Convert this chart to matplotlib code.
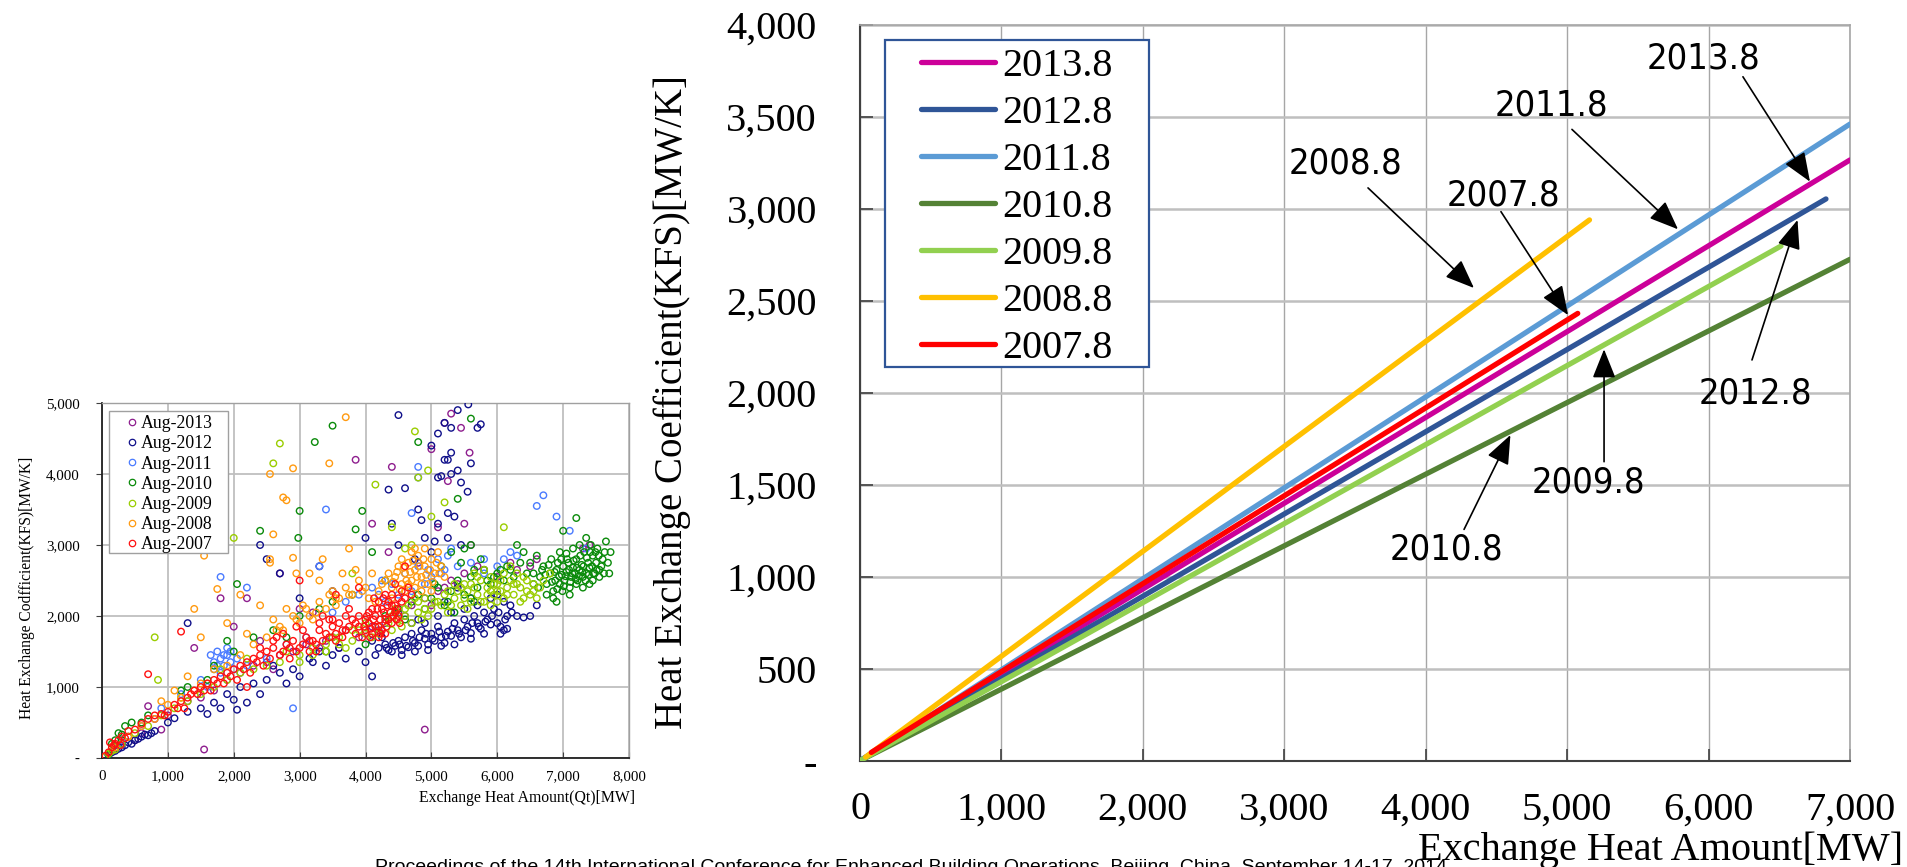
import matplotlib
matplotlib.use('Agg')
import matplotlib.pyplot as plt
from matplotlib import font_manager as fm
from matplotlib.patches import Rectangle
from matplotlib.lines import Line2D
from matplotlib.font_manager import FontProperties

# ---------------- DATA ----------------
# Right chart: regression lines (Qt [MW] -> KFS [MW/K]), start & end points
line_labels = ['2013.8', '2012.8', '2011.8', '2010.8', '2009.8', '2008.8', '2007.8']
line_qt = [[0, 7000], [0, 6830], [0, 7000], [0, 7000], [0, 6512], [40, 5158], [80, 5075]]
line_kfs = [[0, 3265], [0, 3053], [0, 3460], [0, 2725], [0, 2797], [20, 2939], [45, 2431]]

# Left chart: measured scatter points (Qt, KFS)
aug2013 = [(100,50),(300,200),(500,250),(700,730),(800,550),(1000,600),(1300,800),(1500,850),(1700,950),
           (1900,1100),(2100,1200),(2300,1300),(2500,1350),(2700,1450),(2900,1500),(3100,1600),(3300,1550),
           (3500,1700),(3700,1800),(3900,1700),(4100,1850),(4300,1900),(4500,2050),(4700,2150),(4900,2250),
           (5100,2350),(5300,2500),(5500,2600),(5700,2700),(6000,2550),(6500,2700),(7400,3000),(5300,4850),
           (5200,4720),(5450,4650),(5580,4300),(5000,4350),(4400,4100),(3850,4200),(4900,400),(1550,120),
           (1800,2250),(2200,2250),(2700,2600),(3000,2100),(4100,3300),(5500,3300),(1400,1550),(2400,1650),
           (5250,3900),(4350,2900),(5100,3250),(5600,3000),(6300,2650),(4800,2750),(3200,2050),(2000,1850),(900,400),
           (200,120),(400,300),(600,350),(2600,1250),(3400,1650),(3600,1550),(4200,1800),(4600,2000),(5000,2150),
           (5200,2400),(5400,2450),(5800,2650),(6200,2750),(6600,2800),(7300,2950)]
aug2012 = [(4300,1600),(4350,1520),(4400,1500),(4450,1580),(4500,1650),(4550,1520),(4600,1700),(4650,1560),
           (4700,1750),(4750,1620),(4800,1580),(4850,1800),(4900,1680),(4950,1600),(5000,1750),(5050,1650),
           (5100,1850),(5150,1700),(5200,1620),(5250,1780),(5300,1720),(5350,1900),(5400,1800),(5450,1700),
           (5500,1950),(5550,1850),(5600,1760),(5650,2000),(5700,1900),(5750,1820),(5800,2050),(5850,1950),
           (5900,1880),(5950,2100),(6000,1900),(6050,1850),(6100,1800),(6150,2000),(6200,2150),(5100,2000),
           (4900,1900),(4700,1900),(5300,2050),(5500,2100),(5700,2150),(6000,2300),(6300,2000),(6400,1980),
           (4200,1550),(4250,1700),(4800,1950),(5200,2200),(5600,2250),(5400,2400),(5900,2250),(6100,2200),
           (6150,1820),(100,40),(200,100),(300,150),(400,220),(500,250),(600,300),(700,320),(800,380),
           (1000,500),(1100,560),(1300,650),(1500,700),(1700,780),(1900,900),(2000,820),(2100,1000),(2300,1050),
           (2400,900),(2500,1100),(2700,1200),(2900,1250),(3000,1150),(3200,1350),(3400,1300),(3500,1450),
           (3700,1400),(3900,1500),(4000,1350),(3600,1550),(3300,1500),(2800,1050),(1800,700),(2200,780),
           (3150,1400),(4100,1650),(4150,1450),(1600,620),(2600,1300),(2050,680),(4500,4830),(4350,3780),
           (5200,4720),(5300,4650),(5560,4980),(5400,4900),(5100,4570),(5000,4400),(5250,4200),(5300,4000),
           (5450,3880),(5150,3970),(5550,3750),(5350,3400),(5600,4150),(5700,4650),(5750,4700),(4800,3500),
           (4850,3350),(4400,3300),(4000,3100),(4600,3800),(5100,3300),(5250,3100),(5450,3000),(5250,3450),
           (5200,4200),(5100,3950),(3500,2350),(2500,2800),(2700,2600),(3000,2250),(3300,2700),(1300,1900),
           (4100,1150),(2400,3000),(5400,4050),(5300,4300),(4500,3000),(4750,2800),(5000,2900),(4900,3100),
           (5050,3050),(6500,2000),(6600,2150),
           (4320,1550),(4420,1620),(4520,1600),(4620,1580),(4720,1650),(4820,1700),(4920,1750),(5020,1680),
           (5120,1780),(5220,1720),(5320,1820),(5420,1750),(5520,1800),(5620,1900),(5720,1850),(5820,1920),
           (5920,2000),(6020,2050),(6120,1950),(6220,2050),(5350,1600),(5150,1580),(4950,1520),(4750,1500),
           (4550,1450),(5600,1680),(5800,1750),(6050,1750),(150,80),(250,130),(350,180),(450,200),(550,270),
           (650,330),(750,350)]
aug2011 = [(1650,1450),(1700,1350),(1750,1500),(1800,1400),(1850,1300),(1900,1450),(1950,1350),(2000,1250),
           (1800,1200),(1700,1250),(1900,1550),(2050,1400),(1500,1100),(1200,900),(900,700),(600,450),(300,250),
           (2200,1300),(2500,1400),(2800,1600),(3100,1700),(3500,2050),(3700,2200),(3900,2300),(4100,2400),
           (4300,2200),(4400,2450),(4600,2600),(4700,2350),(4800,2700),(5000,2550),(5100,2800),(5200,2650),
           (5300,2950),(4900,2450),(4500,2300),(5400,2700),(5600,2750),(5800,2800),(6200,2900),(6100,2800),
           (6300,2850),(6700,3700),(6600,3550),(6900,3400),(7100,3200),(4700,3450),(4800,4100),(3400,3500),
           (1800,2550),(2200,2400),(2900,700),(3300,2700),(5800,2600),(6000,2700),(4800,3950),(7350,2950),(1600,1000),
           (1750,1300),(1850,1450),(1950,1500),(4200,2300),(4250,2500),(4950,2650),(5150,2600),(5250,2850)]
aug2010 = [(6650,2550),(6700,2700),(6750,2450),(6800,2600),(6820,2800),(6850,2350),(6880,2500),(6900,2650),
           (6920,2750),(6950,2450),(6980,2580),(7000,2700),(7020,2500),(7050,2620),(7080,2750),(7100,2400),
           (7120,2550),(7150,2680),(7180,2600),(7200,2800),(7220,2500),(7250,2650),(7280,2720),(7300,2550),
           (7320,2900),(7350,2600),(7380,2750),(7400,2680),(7420,3000),(7450,2850),(7480,2600),(7500,2750),
           (7520,2950),(7550,2650),(7600,2800),(7650,3050),(7700,2600),(7620,2600),(6950,2900),(7050,2880),
           (7150,2950),(7250,3000),(7350,3100),(7450,2500),(6600,2850),(6550,2600),(6500,2750),(6400,2900),
           (6300,3000),(6200,2650),(6100,2500),(6850,2250),(6750,2300),(6900,2200),(7100,2300),(7300,2400),
           (7200,2450),(6990,2350),(7400,2450),(7550,2550),(4300,2000),(4500,2100),(4600,1950),(4700,2200),
           (4800,2300),(4900,2100),(5000,2250),(5100,2400),(5200,2150),(5300,2350),(5400,2500),(5500,2300),
           (5600,2550),(5700,2400),(5800,2650),(5900,2450),(6000,2600),(5150,2700),(5450,2750),(5750,2800),
           (5250,2200),(5350,2050),(4450,2050),(5050,2450),(5300,2900),(5500,2950),(5600,2250),(5650,2200),
           (100,50),(200,250),(250,350),(300,330),(350,450),(450,500),(150,200),(600,500),(700,600),(1200,950),
           (1300,1000),(1600,1100),(1700,1300),(2000,1500),(2300,1700),(2600,1800),(2800,1700),(3000,2000),
           (3300,2100),(3500,2200),(3800,2300),(3400,1500),(4000,1600),(1900,1650),(3500,4680),(3230,4450),
           (4800,4450),(5600,4780),(5400,3650),(3000,3480),(2400,3200),(2980,3100),(3950,3480),(3850,3220),
           (7000,3200),(7200,3380),(2050,2450),(4100,2900),(5600,3000),(4300,2500),
           (6620,2400),(6680,2650),(6730,2580),(6780,2720),(6830,2480),(6870,2620),(6910,2380),(6940,2560),
           (6970,2800),(7010,2420),(7040,2560),(7060,2800),(7090,2650),(7110,2480),(7140,2600),(7160,2780),
           (7190,2520),(7210,2680),(7240,2560),(7260,2850),(7290,2620),(7310,2700),(7340,2500),(7360,2820),
           (7390,2580),(7410,2900),(7440,2700),(7460,2600),(7490,2900),(7510,2650),(7540,2850),(7580,2700),
           (7630,2900),(7680,2750),(7720,2900),(6550,2450),(6450,2600),(6350,2750),(6250,2550),(6150,2700),
           (6050,2650),(5950,2550),(5850,2500),(5650,2650)]
aug2009 = [(5000,2100),(5100,2200),(5200,2300),(5300,2150),(5400,2350),(5500,2250),(5600,2450),(5700,2300),
           (5750,2500),(5800,2200),(5850,2400),(5900,2550),(5950,2300),(6000,2450),(6050,2350),(6100,2600),
           (6150,2400),(6200,2500),(6250,2300),(6300,2450),(6350,2200),(6400,2550),(6450,2350),(6500,2300),
           (6550,2450),(6600,2250),(5650,2600),(5550,2100),(5450,2150),(6000,2200),(6100,2250),(5800,2650),
           (5900,2150),(5350,2450),(5250,2050),(6200,2700),(6700,2500),(6800,2600),(6400,2250),(3000,1350),
           (3200,1450),(3400,1500),(3600,1600),(3800,1650),(4000,1750),(4200,1850),(4400,1800),(4500,1950),
           (4600,2000),(4700,1900),(4800,2050),(4900,2100),(4650,2150),(4550,1850),(4750,2250),(4850,1950),
           (4950,2000),(4350,1900),(3900,1800),(3700,1550),(3500,1700),(4100,1700),(4450,2100),(50,20),
           (100,60),(150,100),(200,120),(300,200),(400,300),(500,350),(700,450),(900,600),(1100,700),(1300,800),
           (1500,900),(1700,1000),(1900,1100),(2100,1200),(2300,1250),(2500,1300),(2700,1350),(1800,1250),
           (1200,850),(2200,1400),(2800,1500),(2700,4430),(4750,4600),(4800,3950),(4950,4050),(5200,3600),
           (4150,3850),(2600,4150),(800,1700),(850,1100),(2000,3100),(6100,3250),(4400,3250),(4700,3000),
           (5000,3400),(4600,2950),(3800,2600),
           (5050,2200),(5150,2150),(5250,2350),(5350,2250),(5450,2400),(5550,2350),(5650,2400),(5700,2550),
           (5750,2200),(5850,2300),(5950,2450),(6050,2500),(6150,2300),(6250,2450),(6350,2400),(6450,2500),
           (6550,2350),(6650,2400),(5600,2200),(5900,2350),(6000,2350),(6300,2600),(5500,2450),(4900,2250),
           (4800,2200),(4600,2100),(4400,2000),(4200,1750),(4000,1900),(3800,1800),(3600,1700),(3400,1600),
           (3200,1550),(3000,1450)]
aug2008 = [(4400,2400),(4450,2550),(4500,2700),(4550,2450),(4600,2600),(4650,2750),(4700,2500),(4750,2650),
           (4800,2850),(4850,2550),(4900,2700),(4950,2450),(5000,2800),(5050,2600),(5100,2900),(5150,2700),
           (4550,2800),(4700,2900),(4850,2350),(4600,2350),(4900,2950),(5200,2550),(4400,2250),(4750,2400),
           (5000,2350),(2500,1700),(2700,1850),(2900,2000),(3000,1900),(3100,2100),(3200,1950),(3300,2200),
           (3400,2100),(3500,2350),(3600,2250),(3700,2400),(3800,2300),(3900,2500),(4000,2400),(4100,2600),
           (4200,2350),(4300,2500),(3650,2600),(3300,2500),(3550,2150),(3850,2650),(4150,2200),(2800,2100),
           (2600,1950),(3050,2150),(4050,2250),(200,150),(400,300),(600,450),(800,550),(1000,750),(1200,850),
           (1400,950),(1500,1050),(1700,1250),(1900,1300),(2100,1450),(2300,1600),(1100,950),(900,800),
           (2200,1750),(1300,1150),(1600,1050),(3700,4800),(2550,4000),(2900,4080),(2750,3670),(2800,3630),
           (3450,4150),(1550,2850),(1400,2100),(1750,2380),(2550,2800),(3350,2800),(1500,1700),(2900,2820),
           (2600,3150),(2550,2750),(4750,2950),(3750,2950),(2950,2600),(2100,2300),(1900,1900),(2400,2150),
           (3150,2600),
           (4420,2480),(4480,2620),(4520,2380),(4580,2680),(4620,2500),(4680,2620),(4720,2780),(4780,2550),
           (4820,2700),(4880,2800),(4920,2580),(4980,2650),(5020,2480),(5080,2750),(5120,2600),(4650,2450),
           (4850,2450),(3950,2350),(3750,2300),(3550,2250),(3450,2300),(3250,2050),(3150,2000),(2950,1950),
           (2750,1800),(2650,1800),(4250,2450),(4350,2600)]
aug2007 = [(4000,1800),(4050,1900),(4100,1750),(4150,2000),(4200,1850),(4250,2100),(4300,1950),(4350,2200),
           (4400,1900),(4450,2050),(4500,2250),(4050,2050),(4150,1850),(4250,1800),(4350,1950),(4450,2150),
           (4100,2100),(4200,2200),(4300,2300),(4400,2150),(4000,1950),(4500,2000),(4200,1700),(3950,1700),
           (4300,1750),(4400,2300),(4550,2200),(4600,2250),(1000,650),(1100,750),(1200,800),(1300,850),
           (1400,950),(1500,1000),(1600,1050),(1700,1100),(1800,1150),(1900,1200),(2000,1250),(2100,1300),
           (2200,1350),(2300,1400),(2400,1450),(2500,1500),(2600,1550),(2700,1450),(2800,1600),(2900,1650),
           (3000,1550),(3100,1700),(3200,1650),(3300,1800),(3400,1750),(3500,1850),(3600,1900),(3700,1800),
           (3800,1950),(3900,2000),(2650,1700),(2850,1400),(3050,1800),(3250,1500),(3450,1950),(3650,1700),
           (3850,1750),(2450,1300),(2250,1200),(2050,1100),(1850,1050),(1650,950),(1450,900),(1250,700),
           (3150,1500),(3550,1650),(2750,1750),(2950,1850),(3350,2000),(3750,2100),(50,30),(100,80),(150,150),
           (200,200),(250,250),(300,300),(350,280),(400,380),(500,400),(600,480),(700,550),(800,600),(900,620),
           (120,220),(180,180),(280,180),(700,1180),(1200,1780),(3000,2500),(2200,1000),(4600,2700),(3900,2400),
           (4450,2450),(3550,2300),
           (3980,1850),(4020,2000),(4080,1820),(4120,1950),(4180,2100),(4220,1950),(4280,2050),(4320,1850),
           (4380,2050),(4420,2000),(4480,2100),(4520,1900),(4070,1700),(4230,1750),(4330,2150),(4130,2250),
           (4270,2250),(4470,1950),(3900,1850),(3850,1900),(3750,1850),(3650,1800),(3550,1750),(3450,1700),
           (3350,1650),(3250,1600),(3150,1650),(3050,1600),(2950,1500),(2850,1550),(2750,1500),(2550,1400),
           (2350,1350),(2150,1250),(1950,1150),(1750,1050),(1550,950),(1350,900),(1150,700),(950,600),
           (2600,1650),(2400,1550),(3700,2000),(3500,1950),(3300,1900),(4550,2350),(4650,2400),(4700,2300)]
scatter_labels = ['Aug-2013', 'Aug-2012', 'Aug-2011', 'Aug-2010', 'Aug-2009', 'Aug-2008', 'Aug-2007']
scatter_series = [aug2013, aug2012, aug2011, aug2010, aug2009, aug2008, aug2007]

left_xticks = [0, 1000, 2000, 3000, 4000, 5000, 6000, 7000, 8000]
left_xticklabels = ['0', '1,000', '2,000', '3,000', '4,000', '5,000', '6,000', '7,000', '8,000']
left_yticks = [0, 1000, 2000, 3000, 4000, 5000]
left_yticklabels = ['-', '1,000', '2,000', '3,000', '4,000', '5,000']
right_xticks = [0, 1000, 2000, 3000, 4000, 5000, 6000, 7000]
right_xticklabels = ['0', '1,000', '2,000', '3,000', '4,000', '5,000', '6,000', '7,000']
right_yticks = [0, 500, 1000, 1500, 2000, 2500, 3000, 3500, 4000]
right_yticklabels = ['-', '500', '1,000', '1,500', '2,000', '2,500', '3,000', '3,500', '4,000']

# ---------------- STYLE / LAYOUT ----------------
line_colors = ['#CC0099', '#2F5597', '#5B9BD5', '#548235', '#92D050', '#FFC000', '#FF0000']
scatter_colors = ['#8E1E8E', '#10108A', '#4A7BFF', '#0A8A0A', '#9ACD00', '#FF9A10', '#FF1010']

# annotations: label, text (x, baseline y), arrow tail, arrow tip (data coords)
annotations = [
    ('2013.8', (5961, 3763), (6243, 3717), (6717, 3147)),
    ('2011.8', (4886, 3509), (5034, 3431), (5784, 2888)),
    ('2008.8', (3436, 3192), (3592, 3113), (4341, 2569)),
    ('2007.8', (4547, 3020), (4532, 2984), (5006, 2422)),
    ('2012.8', (6328, 1944), (6307, 2178), (6629, 2939)),
    ('2009.8', (5148, 1455), (5261, 1625), (5261, 2236)),
    ('2010.8', (4150, 1091), (4271, 1257), (4599, 1770)),
]

SERIF = 'Liberation Serif'
W, H = 1907, 867
fig = plt.figure(figsize=(W / 100, H / 100), dpi=100)
fig.patch.set_facecolor('white')

def fx(px):
    return px / W

def fy(py):
    return 1 - py / H

# narrow sans font for annotations
cond = [f for f in fm.fontManager.ttflist
        if f.name == 'DejaVu Sans' and str(f.stretch) == 'condensed'
        and str(f.weight) in ('normal', '400') and f.style == 'normal']
names = {f.name for f in fm.fontManager.ttflist}
if cond:
    ann_fp = FontProperties(fname=cond[0].fname, size=26)
elif 'Liberation Sans Narrow' in names:
    ann_fp = FontProperties(family='Liberation Sans Narrow', size=27)
else:
    ann_fp = FontProperties(family='Liberation Sans', size=25)

# ================= LEFT SCATTER CHART =================
axL = fig.add_axes([fx(102), fy(758), fx(629) - fx(102), fy(403) - fy(758)])
axL.set_xlim(0, 8000)
axL.set_ylim(0, 5000)
axL.set_axisbelow(True)
axL.grid(True, color='#BFBFBF', lw=1.3)
for lab, pts, col in zip(scatter_labels, scatter_series, scatter_colors):
    xs = [p[0] for p in pts]
    ys = [p[1] for p in pts]
    axL.scatter(xs, ys, s=22, facecolors='none', edgecolors=col, linewidths=1.0, zorder=3)
axL.set_xticks(left_xticks)
axL.set_xticklabels(left_xticklabels, fontfamily=SERIF, fontsize=10.8)
axL.set_yticks(left_yticks)
axL.set_yticklabels(left_yticklabels, fontfamily=SERIF, fontsize=10.8)
axL.tick_params(axis='y', direction='out', length=4, pad=12, color='#404040')
axL.tick_params(axis='x', direction='in', length=4, pad=9, color='#404040')
for s in ['top', 'right']:
    axL.spines[s].set_color('#A0A0A0')
    axL.spines[s].set_linewidth(1.0)
for s in ['left', 'bottom']:
    axL.spines[s].set_color('#202020')
    axL.spines[s].set_linewidth(1.3)

fig.text(fx(635), fy(798), 'Exchange Heat Amount(Qt)[MW]', fontfamily=SERIF, fontsize=11.3,
         ha='right', va='center')
fig.text(fx(27), fy(588), 'Heat Exchange Codfficient(KFS)[MW/K]', fontfamily=SERIF, fontsize=11.2,
         ha='center', va='center', rotation=90)

# left legend (manual)
fig.add_artist(Rectangle((fx(109), fy(553)), fx(228) - fx(109), fy(411) - fy(553),
                         transform=fig.transFigure, facecolor='white', edgecolor='#A0A0A0', lw=1.0, zorder=5))
for i, (lab, col) in enumerate(zip(scatter_labels, scatter_colors)):
    yy = 421.7 + 20.2 * i
    fig.add_artist(Line2D([fx(132)], [fy(yy)], marker='o', markersize=4.6, mfc='none', mec=col, mew=0.9,
                          linestyle='none', transform=fig.transFigure, zorder=6))
    fig.text(fx(141), fy(yy), lab, fontfamily=SERIF, fontsize=12.8, ha='left', va='center_baseline', zorder=6)

# ================= RIGHT LINE CHART =================
axR = fig.add_axes([fx(860), fy(760.7), fx(1850) - fx(860), fy(24.7) - fy(760.7)])
axR.set_xlim(0, 7000)
axR.set_ylim(0, 4000)
axR.set_axisbelow(True)
axR.xaxis.grid(True, color='#A6A6A6', lw=1.0)
axR.yaxis.grid(True, color='#BFBFBF', lw=1.8)
for lab, xs, ys, col in zip(line_labels, line_qt, line_kfs, line_colors):
    axR.plot(xs, ys, color=col, lw=3.8, solid_capstyle='round', zorder=3)
axR.set_xticks(right_xticks)
axR.set_xticklabels(right_xticklabels, fontfamily=SERIF, fontsize=29)
axR.set_yticks(right_yticks)
axR.set_yticklabels(right_yticklabels, fontfamily=SERIF, fontsize=29)
axR.tick_params(axis='both', direction='in', length=9, width=1.2, color='#404040')
axR.tick_params(axis='y', pad=31)
axR.tick_params(axis='x', pad=22)
for s in ['top', 'right']:
    axR.spines[s].set_color('#A6A6A6')
    axR.spines[s].set_linewidth(1.2)
for s in ['left', 'bottom']:
    axR.spines[s].set_color('#404040')
    axR.spines[s].set_linewidth(1.5)

for lab, tpos, tail, tip in annotations:
    axR.text(tpos[0], tpos[1], lab, fontproperties=ann_fp, ha='center', va='baseline', zorder=6)
    axR.annotate('', xy=tip, xytext=tail,
                 arrowprops=dict(arrowstyle='-|>,head_length=0.4,head_width=0.16', mutation_scale=45,
                                 color='black', lw=1.2, shrinkA=0, shrinkB=0), zorder=6)

# right legend (manual)
fig.add_artist(Rectangle((fx(885), fy(367)), fx(1149) - fx(885), fy(40) - fy(367),
                         transform=fig.transFigure, facecolor='white', edgecolor='#2F5597', lw=1.6, zorder=5))
for i, (lab, col) in enumerate(zip(line_labels, line_colors)):
    yy = 62 + 47 * i
    fig.add_artist(Line2D([fx(921), fx(995)], [fy(yy), fy(yy)], color=col, lw=3.8,
                          solid_capstyle='round', transform=fig.transFigure, zorder=6))
    fig.text(fx(1002), fy(yy), lab, fontfamily=SERIF, fontsize=29, ha='left', va='center_baseline', zorder=6)

fig.text(fx(672), fy(402), 'Heat Exchange Coefficient(KFS)[MW/K]', fontfamily=SERIF, fontsize=28,
         ha='center', va='center', rotation=90)

# footer (cut off at the bottom edge, as in the source page)
fig.text(fx(375), fy(872), 'Proceedings of the 14th International Conference for Enhanced Building Operations, '
         'Beijing, China, September 14-17, 2014', fontfamily='Liberation Sans', fontsize=14,
         ha='left', va='baseline')

fig.text(fx(1903), fy(860), 'Exchange Heat Amount[MW]', fontfamily=SERIF, fontsize=29,
         ha='right', va='baseline', zorder=7)

fig.savefig('out.png', dpi=100, facecolor='white')
